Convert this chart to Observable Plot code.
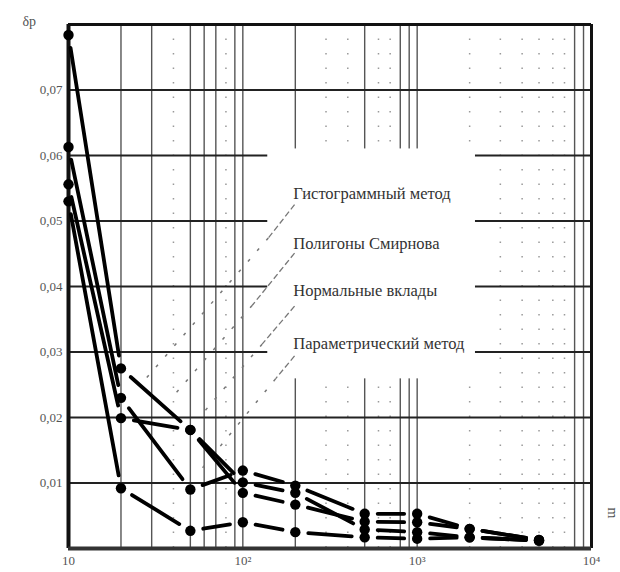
<!DOCTYPE html>
<html>
<head>
<meta charset="utf-8">
<script src="https://cdn.jsdelivr.net/npm/d3@7"></script>
<script src="https://cdn.jsdelivr.net/npm/@observablehq/plot@0.6"></script>
<style>
  html, body { margin: 0; padding: 0; background: #fff; }
  #chart { width: 620px; height: 572px; }
</style>
</head>
<body>
<div id="chart"></div>
<script>
// ---- data ----
const xValues = [10, 20, 50, 100, 200, 500, 1000, 2000, 5000];
const seriesNames = ["Гистограммный метод", "Полигоны Смирнова", "Нормальные вклады", "Параметрический метод"];
const histValues = [0.0784, 0.0275, 0.0181, 0.0085, 0.0067, 0.0041, 0.0040, 0.0030, 0.0013];
const smirnovValues = [0.0530, 0.0092, 0.0027, 0.0040, 0.0025, 0.0017, 0.0015, 0.0017, 0.0012];
const normalValues = [0.0556, 0.0199, 0.0181, 0.0101, 0.0085, 0.0029, 0.0025, 0.0017, 0.0012];
const paramValues = [0.0613, 0.0230, 0.0090, 0.0119, 0.0096, 0.0053, 0.0053, 0.0030, 0.0013];

const yTicks = [0.01, 0.02, 0.03, 0.04, 0.05, 0.06, 0.07];
const yTickLabels = ["0,01", "0,02", "0,03", "0,04", "0,05", "0,06", "0,07"];
const xTicks = [10, 100, 1000, 10000];
const xTickLabels = ["10", "10²", "10³", "10⁴"];

const solidGrid = [20, 30, 50, 60, 70, 90, 100, 200, 500, 800, 900, 1000, 8000, 9000];
const dottedGrid = [40, 80, 300, 400, 600, 700, 2000, 3000, 4000, 5000, 6000, 7000];

// legend annotation (label position, leader line: start, bend, end)
const labelX = [200, 200, 200, 200];
const labelY = [0.0542, 0.0466, 0.0394, 0.0312];
const leaderStartX = [198, 198, 198, 198];
const leaderStartY = [0.0525, 0.0451, 0.0370, 0.0294];
const leaderMidX = [140, 113, 129, 154];
const leaderMidY = [0.0474, 0.0371, 0.0312, 0.0259];
const leaderEndX = [27.7, 38.5, 57, 57];
const leaderEndY = [0.0259, 0.0228, 0.0202, 0.0119];
const legendBox = {x1: 139, x2: 2160, y1: 0.0259, y2: 0.0610};

// ---- build tables ----
const seriesValues = [histValues, smirnovValues, normalValues, paramValues];
const points = [];
const segments = [];
seriesValues.forEach((vals, s) => {
  vals.forEach((v, i) => {
    points.push({series: seriesNames[s], x: xValues[i], y: v});
    if (i > 0) segments.push({series: seriesNames[s], x1: xValues[i - 1], y1: vals[i - 1], x2: xValues[i], y2: v});
  });
});
const labels = seriesNames.map((name, i) => ({name, x: labelX[i], y: labelY[i]}));
const leadA = seriesNames.map((n, i) => ({x1: leaderStartX[i], y1: leaderStartY[i], x2: leaderMidX[i], y2: leaderMidY[i]}));
const leadB = seriesNames.map((n, i) => ({x1: leaderMidX[i], y1: leaderMidY[i], x2: leaderEndX[i], y2: leaderEndY[i]}));
const xTickRows = xTicks.map((v, i) => ({x: v, label: xTickLabels[i]}));
const yTickRows = yTicks.map((v, i) => ({y: v, label: yTickLabels[i]}));

const chart = Plot.plot({
  width: 620,
  height: 572,
  marginLeft: 68,
  marginRight: 29,
  marginTop: 24,
  marginBottom: 24,
  style: {fontFamily: "'Liberation Serif', 'DejaVu Serif', serif", fontSize: "12px", color: "#555", background: "#fff"},
  x: {type: "log", domain: [10, 10000], label: null, axis: null},
  y: {domain: [0, 0.08], label: null, axis: null},
  marks: [
    Plot.ruleX(solidGrid, {stroke: "#555", strokeWidth: 1.4}),
    Plot.ruleX(dottedGrid, {stroke: "#999", strokeWidth: 1.5, strokeDasharray: "1.5,13"}),
    Plot.ruleY(yTicks, {stroke: "#222", strokeWidth: 2}),
    Plot.rect([legendBox], {x1: "x1", x2: "x2", y1: "y1", y2: "y2", fill: "white"}),
    Plot.link(leadA, {x1: "x1", y1: "y1", x2: "x2", y2: "y2", stroke: "#777", strokeWidth: 1.3, strokeDasharray: "6,3"}),
    Plot.link(leadB, {x1: "x1", y1: "y1", x2: "x2", y2: "y2", stroke: "#777", strokeWidth: 1.5, strokeDasharray: "3,11"}),
    Plot.text(labels, {x: "x", y: "y", text: "name", textAnchor: "start", fill: "#333", fontSize: 16.5, dx: -2}),
    Plot.ruleX([10], {stroke: "#111", strokeWidth: 4}),
    Plot.ruleX([10000], {stroke: "#111", strokeWidth: 3}),
    Plot.ruleY([0], {stroke: "#333", strokeWidth: 4}),
    Plot.ruleY([0.08], {stroke: "#111", strokeWidth: 3}),
    Plot.arrow(segments, {x1: "x1", y1: "y1", x2: "x2", y2: "y2", stroke: "#000", strokeWidth: 3.8, headLength: 0, inset: 13}),
    Plot.dot(points, {x: "x", y: "y", r: 5.2, fill: "#000"}),
    Plot.text(yTickRows, {y: "y", text: "label", frameAnchor: "left", textAnchor: "end", dx: -6, fill: "#555", fontSize: 13}),
    Plot.text(xTickRows, {x: "x", text: "label", frameAnchor: "bottom", dy: 16, fill: "#555", fontSize: 13}),
    Plot.text(["δр"], {frameAnchor: "top-left", dx: -46, dy: -8, fill: "#555", fontSize: 14}),
    Plot.text(["m"], {frameAnchor: "bottom-right", dx: 16, dy: -30, rotate: 90, fill: "#555", fontSize: 14})
  ]
});
document.getElementById("chart").appendChild(chart);
</script>
</body>
</html>
